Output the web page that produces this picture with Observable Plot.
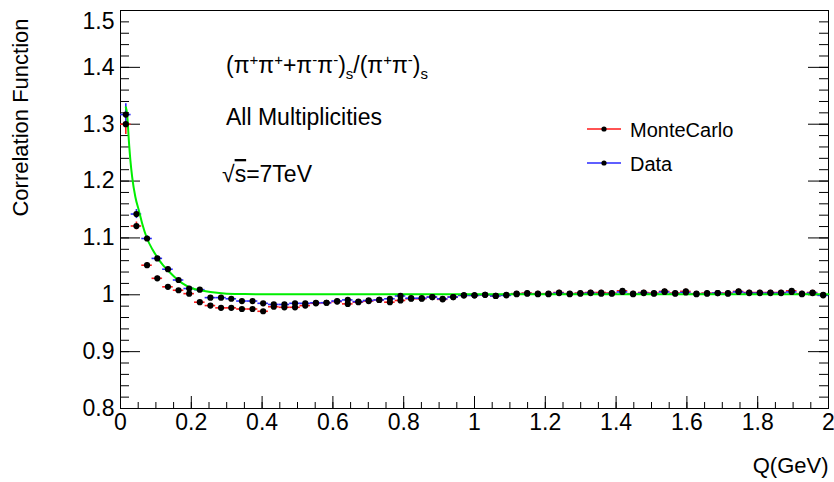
<!DOCTYPE html>
<html>
<head>
<meta charset="utf-8">
<script src="https://cdn.jsdelivr.net/npm/d3@7"></script>
<script src="https://cdn.jsdelivr.net/npm/@observablehq/plot@0.6"></script>
<style>
  body { margin: 0; background: #fff; }
  #chart svg { display: block; }
</style>
</head>
<body>
<div id="chart"></div>
<script>
// Bin centres in Q (GeV), 67 bins over [0, 2]
const qCenters = [
  0.015, 0.045, 0.075, 0.104, 0.134, 0.164, 0.194, 0.224, 0.254, 0.284,
  0.313, 0.343, 0.373, 0.403, 0.433, 0.463, 0.493, 0.522, 0.552, 0.582,
  0.612, 0.642, 0.672, 0.701, 0.731, 0.761, 0.791, 0.821, 0.851, 0.881,
  0.910, 0.940, 0.970, 1.000, 1.030, 1.060, 1.090, 1.119, 1.149, 1.179,
  1.209, 1.239, 1.269, 1.299, 1.328, 1.358, 1.388, 1.418, 1.448, 1.478,
  1.507, 1.537, 1.567, 1.597, 1.627, 1.657, 1.687, 1.716, 1.746, 1.776,
  1.806, 1.836, 1.866, 1.896, 1.925, 1.955, 1.985
];
const binHalfWidth = 0.0149;

// Measured correlation function
const dataC = [
  1.317, 1.142, 1.099, 1.064, 1.045, 1.026, 1.011, 1.009, 0.995, 0.995,
  0.993, 0.989, 0.989, 0.985, 0.983, 0.983, 0.985, 0.985, 0.986, 0.986,
  0.989, 0.991, 0.988, 0.990, 0.991, 0.993, 0.998, 0.994, 0.994, 0.996,
  0.993, 0.996, 0.999, 0.999, 1.000, 0.998, 0.999, 1.001, 1.002, 1.001,
  1.001, 1.003, 1.001, 1.002, 1.003, 1.002, 1.002, 1.005, 1.001, 1.003,
  1.002, 1.005, 1.002, 1.004, 1.001, 1.002, 1.003, 1.002, 1.005, 1.003,
  1.003, 1.003, 1.003, 1.005, 1.001, 1.003, 0.999
];
const dataErr = [
  0.019, 0.008, 0.005, 0.004, 0.004, 0.003, 0.003, 0.003, 0.003, 0.003,
  0.003, 0.003, 0.003, 0.003, 0.003, 0.003, 0.003, 0.003, 0.003, 0.003,
  0.003, 0.003, 0.003, 0.003, 0.003, 0.003, 0.003, 0.003, 0.003, 0.003,
  0.003, 0.004, 0.004, 0.004, 0.004, 0.004, 0.004, 0.004, 0.004, 0.004,
  0.004, 0.004, 0.004, 0.004, 0.004, 0.004, 0.004, 0.004, 0.004, 0.004,
  0.004, 0.004, 0.004, 0.004, 0.004, 0.004, 0.004, 0.004, 0.004, 0.004,
  0.004, 0.004, 0.004, 0.004, 0.004, 0.004, 0.004
];

// Monte Carlo correlation function
const mcC = [
  1.300, 1.121, 1.052, 1.029, 1.014, 1.008, 1.002, 0.987, 0.981, 0.977,
  0.977, 0.975, 0.975, 0.971, 0.979, 0.978, 0.978, 0.981, 0.985, 0.986,
  0.988, 0.984, 0.987, 0.989, 0.991, 0.987, 0.990, 0.993, 0.993, 0.996,
  0.992, 0.996, 0.999, 0.999, 1.000, 0.998, 1.000, 1.002, 1.003, 1.002,
  1.002, 1.004, 1.002, 1.003, 1.004, 1.004, 1.003, 1.007, 1.002, 1.004,
  1.003, 1.006, 1.003, 1.006, 1.002, 1.003, 1.003, 1.003, 1.006, 1.004,
  1.004, 1.004, 1.004, 1.007, 1.002, 1.004, 1.000
];
const mcErr = [
  0.018, 0.007, 0.005, 0.004, 0.003, 0.003, 0.003, 0.003, 0.003, 0.003,
  0.003, 0.003, 0.003, 0.003, 0.003, 0.003, 0.003, 0.003, 0.003, 0.003,
  0.003, 0.003, 0.003, 0.003, 0.003, 0.003, 0.003, 0.003, 0.003, 0.003,
  0.003, 0.004, 0.004, 0.004, 0.004, 0.004, 0.004, 0.004, 0.004, 0.004,
  0.004, 0.004, 0.004, 0.004, 0.004, 0.004, 0.004, 0.004, 0.004, 0.004,
  0.004, 0.004, 0.004, 0.004, 0.004, 0.004, 0.004, 0.004, 0.004, 0.004,
  0.004, 0.004, 0.004, 0.004, 0.004, 0.004, 0.004
];

// Fitted curve to the data
const fitQ = [0.015, 0.019, 0.0235, 0.028, 0.033, 0.042, 0.052, 0.061, 0.075, 0.09,
              0.105, 0.12, 0.137, 0.155, 0.175, 0.2, 0.225, 0.254, 0.3, 0.35,
              0.45, 1.0, 2.0];
const fitC = [1.330, 1.316, 1.272, 1.236, 1.207, 1.172, 1.148, 1.126, 1.099, 1.080,
              1.065, 1.052, 1.041, 1.030, 1.020, 1.012, 1.008, 1.005, 1.002, 1.0012,
              1.001, 1.001, 1.001];

// Axis ticks
const xTicks = [0, 0.2, 0.4, 0.6, 0.8, 1, 1.2, 1.4, 1.6, 1.8, 2];
const yTicks = [0.8, 0.9, 1, 1.1, 1.2, 1.3, 1.4, 1.5];
const xMinorTicks = d3.ticks(0, 2, 40);
const yMinorTicks = d3.ticks(0.8, 1.5, 35);

const RED = "#ff1a1a";
const BLUE = "#2a2aff";
const FONT = "'Liberation Sans', Arial, Helvetica, sans-serif";

const W = 834, H = 482;
const M = {top: 10, right: 6, bottom: 74, left: 120};
const FW = W - M.left - M.right;
const FH = H - M.top - M.bottom;

const rows = (q, c, e, series) => q.map((x, i) => ({q: x, c: c[i], e: e[i], series}));
const mcRows = rows(qCenters, mcC, mcErr, "MonteCarlo");
const dataRows = rows(qCenters, dataC, dataErr, "Data");
const fitRows = fitQ.map((q, i) => ({q, c: fitC[i]}));
const fmt = d3.format("~g");

const errorBars = (data, stroke) => [
  Plot.ruleY(data, {y: "c", x1: d => d.q - binHalfWidth, x2: d => d.q + binHalfWidth, stroke, strokeWidth: 1.6}),
  Plot.ruleX(data, {x: "q", y1: d => d.c - d.e, y2: d => d.c + d.e, stroke, strokeWidth: 1.6})
];

const svg = Plot.plot({
  width: W,
  height: H,
  marginTop: M.top,
  marginRight: M.right,
  marginBottom: M.bottom,
  marginLeft: M.left,
  style: {fontFamily: FONT, fontSize: "23px", color: "black", background: "white"},
  x: {domain: [0, 2]},
  y: {domain: [0.8, 1.5]},
  marks: [
    // ticks on all axes (inward)
    Plot.tickX(xTicks, {x: d => d, insetTop: FH - 12, stroke: "black"}),
    Plot.tickX(xMinorTicks, {x: d => d, insetTop: FH - 6, stroke: "black"}),
    Plot.tickY(yTicks, {y: d => d, insetRight: FW - 20, stroke: "black"}),
    Plot.tickY(yMinorTicks, {y: d => d, insetRight: FW - 9, stroke: "black"}),
    Plot.tickY(yTicks, {y: d => d, insetLeft: FW - 20, stroke: "black"}),
    Plot.tickY(yMinorTicks, {y: d => d, insetLeft: FW - 9, stroke: "black"}),
    Plot.axisX(xTicks, {tickSize: 0, tickPadding: 5, tickFormat: fmt, fontSize: 23, label: null}),
    Plot.axisY(yTicks, {tickSize: 0, tickPadding: 6, tickFormat: fmt, fontSize: 23, label: null}),
    Plot.frame({stroke: "black"}),
    // error bars
    ...errorBars(mcRows, RED),
    ...errorBars(dataRows, BLUE),
    // fit
    Plot.line(fitRows, {x: "q", y: "c", stroke: "#00ee00", strokeWidth: 2, curve: "monotone-x"}),
    // markers
    Plot.dot(mcRows, {x: "q", y: "c", r: 3.1, fill: "black"}),
    Plot.dot(dataRows, {x: "q", y: "c", r: 3.1, fill: "black"}),
    // axis titles
    Plot.text(["Correlation Function"], {text: d => d, frameAnchor: "top-left", dx: -100, dy: 107,
      rotate: -90, textAnchor: "middle", lineAnchor: "middle", fontSize: 22}),
    Plot.text(["Q(GeV)"], {text: d => d, frameAnchor: "bottom-right", dy: 57,
      textAnchor: "end", lineAnchor: "middle", fontSize: 22})
  ]
});

const s = d3.select(svg);

// keep the topmost y label inside the canvas
s.selectAll("text").filter(function () { return this.textContent === "1.5"; })
  .attr("dy", "0.5em");

// Annotations
const ann = s.append("g").attr("font-family", FONT).attr("fill", "black").attr("text-anchor", "start");

const formula = ann.append("text").attr("x", 226).attr("y", 73).attr("font-size", 23);
const parts = [
  ["(π", 0], ["+", -1], ["π", 0], ["+", -1], ["+π", 0], ["-", -1], ["π", 0], ["-", -1],
  [")", 0], ["s", 1], ["/(π", 0], ["+", -1], ["π", 0], ["-", -1], [")", 0], ["s", 1]
];
let shift = 0;
for (const [t, level] of parts) {
  const target = level === -1 ? -8 : level === 1 ? 6 : 0;
  formula.append("tspan")
    .attr("dy", target - shift)
    .attr("font-size", level === 0 ? 23 : 15)
    .text(t);
  shift = target;
}

ann.append("text").attr("x", 226).attr("y", 125).attr("font-size", 23).text("All Multiplicities");

const rs = ann.append("text").attr("x", 222).attr("y", 182).attr("font-size", 23);
rs.append("tspan").text("√");
rs.append("tspan").style("text-decoration", "overline").text("s");
rs.append("tspan").text("=7TeV");

// Legend
const legend = [
  {label: "MonteCarlo", color: RED, y: 129},
  {label: "Data", color: BLUE, y: 163}
];
const lg = s.append("g").attr("font-family", FONT).attr("text-anchor", "start");
for (const e of legend) {
  lg.append("line").attr("x1", 587).attr("x2", 621).attr("y1", e.y).attr("y2", e.y)
    .attr("stroke", e.color).attr("stroke-width", 1.6);
  lg.append("circle").attr("cx", 604).attr("cy", e.y).attr("r", 2.6).attr("fill", "black");
  lg.append("text").attr("x", 630).attr("y", e.y + 8).attr("font-size", 20).attr("fill", "black").text(e.label);
}

document.getElementById("chart").appendChild(svg);
</script>
</body>
</html>
